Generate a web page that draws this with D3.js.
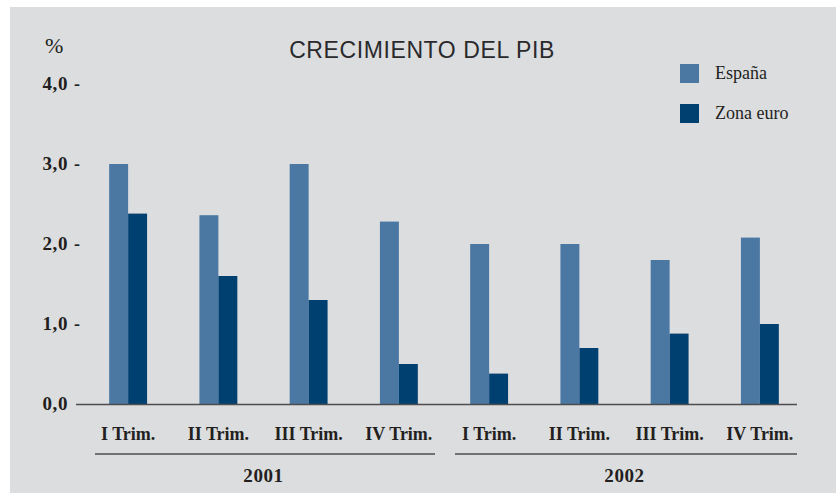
<!DOCTYPE html>
<html lang="es">
<head>
    <meta charset="UTF-8">
    <title>Crecimiento del PIB</title>
    <style>
        body {
            margin: 0;
            padding: 0;
            background: #fff;
        }
        svg text {
            fill: #231f20;
        }
        .num {
            font-family: "Liberation Serif", serif;
            font-weight: bold;
            font-size: 18px;
        }
        .digits {
            font-size: 19px;
            letter-spacing: 0.6px;
        }
    </style>
</head>
<body>
    <svg id="chart" width="836" height="493"></svg>
    <script src="https://d3js.org/d3.v7.min.js"></script>
    <script>
        const quarters = ['I Trim.', 'II Trim.', 'III Trim.', 'IV Trim.', 'I Trim.', 'II Trim.', 'III Trim.', 'IV Trim.'];
        const years = ['2001', '2002'];
        const seriesNames = ['España', 'Zona euro'];
        const espana = [3.0, 2.36, 3.0, 2.28, 2.0, 2.0, 1.8, 2.08];
        const zonaEuro = [2.38, 1.6, 1.3, 0.5, 0.38, 0.7, 0.88, 1.0];
        const yTicks = [0, 1, 2, 3, 4];
        const colors = ['#4a78a3', '#004071'];

        const svg = d3.select('#chart');

        // panel background
        svg.append('rect')
            .attr('x', 10).attr('y', 7)
            .attr('width', 826).attr('height', 486)
            .attr('fill', '#dcdddf');

        const x0 = d3.scaleBand()
            .domain(d3.range(quarters.length))
            .range([83, 805])
            .paddingInner(0.58)
            .paddingOuter(0.29);

        const x1 = d3.scaleBand()
            .domain(seriesNames)
            .range([0, x0.bandwidth()]);

        const y = d3.scaleLinear()
            .domain([0, 4])
            .range([404, 84]);

        const rows = quarters.map((q, i) => ({ i: i, values: [espana[i], zonaEuro[i]] }));

        // bars
        svg.append('g')
            .selectAll('g')
            .data(rows)
            .enter().append('g')
            .attr('transform', d => `translate(${x0(d.i)},0)`)
            .selectAll('rect')
            .data(d => d.values.map((v, k) => ({ name: seriesNames[k], value: v, k: k })))
            .enter().append('rect')
            .attr('x', d => x1(d.name))
            .attr('y', d => y(d.value))
            .attr('width', x1.bandwidth())
            .attr('height', d => y(0) - y(d.value))
            .attr('fill', d => colors[d.k]);

        // baseline
        svg.append('line')
            .attr('x1', 76).attr('x2', 797)
            .attr('y1', y(0) + 0.5).attr('y2', y(0) + 0.5)
            .attr('stroke', '#4d4d4f')
            .attr('stroke-width', 1.5);

        // y tick labels
        svg.append('g')
            .selectAll('text')
            .data(yTicks)
            .enter().append('text')
            .attr('class', 'num digits')
            .attr('x', 68)
            .attr('y', d => y(d) + 6)
            .attr('text-anchor', 'end')
            .text(d => d3.format('.1f')(d).replace('.', ','));

        svg.append('g')
            .selectAll('text')
            .data(yTicks.filter(d => d > 0))
            .enter().append('text')
            .attr('class', 'num')
            .attr('x', 74)
            .attr('y', d => y(d) + 6)
            .text('-');

        svg.append('text')
            .attr('x', 45).attr('y', 53)
            .style('font-family', '"Liberation Serif", serif')
            .style('font-size', '22px')
            .text('%');

        // title
        svg.append('text')
            .attr('x', 422).attr('y', 58)
            .attr('text-anchor', 'middle')
            .style('font-family', '"Liberation Sans", Arial, sans-serif')
            .style('font-size', '23px')
            .style('letter-spacing', '0.6px')
            .style('fill', '#2a2a2c')
            .text('CRECIMIENTO DEL PIB');

        // quarter labels
        svg.append('g')
            .selectAll('text')
            .data(quarters)
            .enter().append('text')
            .attr('class', 'num')
            .attr('x', (d, i) => x0(i) + x0.bandwidth() / 2)
            .attr('y', 440)
            .attr('text-anchor', 'middle')
            .text(d => d);

        // year groups
        const yearSpans = [[95, 435], [455, 797]];
        years.forEach((yr, j) => {
            const s = yearSpans[j];
            svg.append('line')
                .attr('x1', s[0]).attr('x2', s[1])
                .attr('y1', 454).attr('y2', 454)
                .attr('stroke', '#4d4d4f')
                .attr('stroke-width', 1.5);
            const cx = (x0(j * 4) + x0(j * 4 + 3) + x0.bandwidth()) / 2;
            svg.append('text')
                .attr('class', 'num digits')
                .attr('x', cx)
                .attr('y', 482)
                .attr('text-anchor', 'middle')
                .text(yr);
        });

        // legend
        const legend = svg.append('g')
            .selectAll('g')
            .data(seriesNames)
            .enter().append('g')
            .attr('transform', (d, i) => `translate(680,${64 + i * 40})`);

        legend.append('rect')
            .attr('width', 19).attr('height', 19)
            .attr('fill', (d, i) => colors[i]);

        legend.append('text')
            .attr('x', 35).attr('y', 15)
            .style('font-family', '"Liberation Serif", serif')
            .style('font-size', '18px')
            .text(d => d);
    </script>
</body>
</html>
